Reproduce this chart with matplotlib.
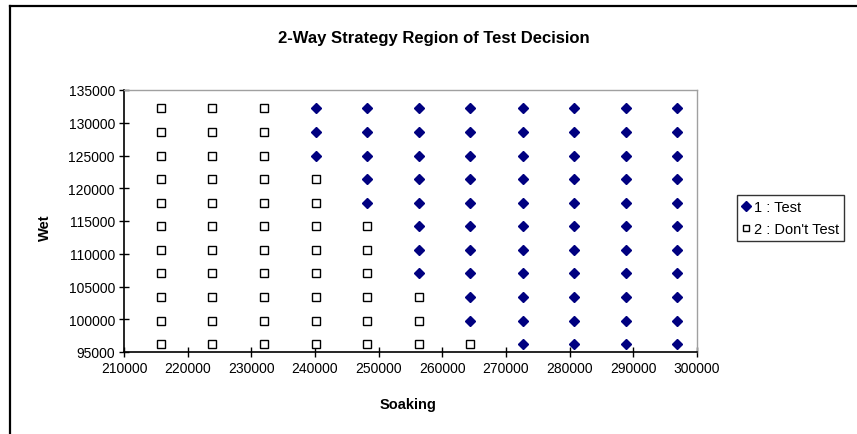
import matplotlib
matplotlib.use("Agg")
import matplotlib.pyplot as plt
from matplotlib.lines import Line2D
import numpy as np

plt.rcParams['font.family'] = ['Liberation Sans', 'DejaVu Sans']

soaking = [215800, 223900, 232000, 240100, 248200, 256300, 264400, 272600, 280700, 288800, 296900]
wet = [96200, 99800, 103400, 107000, 110600, 114200, 117800, 121400, 125000, 128600, 132200]
# lowest wet row index (from bottom) from which decision is "1 : Test" for each soaking column (11 = never)
test_from_row = [11, 11, 11, 8, 6, 3, 1, 0, 0, 0, 0]

x_ticks = [210000, 220000, 230000, 240000, 250000, 260000, 270000, 280000, 290000, 300000]
y_ticks = [95000, 100000, 105000, 110000, 115000, 120000, 125000, 130000, 135000]

test_x, test_y, dont_x, dont_y = [], [], [], []
for i, sx in enumerate(soaking):
    for j, wy in enumerate(wet):
        if j >= test_from_row[i]:
            test_x.append(sx); test_y.append(wy)
        else:
            dont_x.append(sx); dont_y.append(wy)

fig = plt.figure(figsize=(8.57, 4.35), dpi=100)
fig.patch.set_facecolor('white')
ax = fig.add_axes([124/857, 1-353/435, 573/857, 262/435])

ax.plot(test_x, test_y, linestyle='none', marker='D', ms=5.5, color='#000080', mec='#000080')
ax.plot(dont_x, dont_y, linestyle='none', marker='s', ms=5.5, mfc='white', mec='black', mew=1.0)

ax.set_xlim(210000, 300000)
ax.set_ylim(95000, 135000)
ax.set_xticks(x_ticks)
ax.set_yticks(y_ticks)
ax.set_xticklabels([str(v) for v in x_ticks], fontsize=10)
ax.set_yticklabels([str(v) for v in y_ticks], fontsize=10)
ax.tick_params(direction='inout', length=7, width=1, color='black', pad=3)
for s in ['left', 'bottom']:
    ax.spines[s].set_color('black')
    ax.spines[s].set_linewidth(1.2)
for s in ['top', 'right']:
    ax.spines[s].set_color('#a0a0a0')
    ax.spines[s].set_linewidth(1.0)

fig.text(434/857, 1-38/435, '2-Way Strategy Region of Test Decision', ha='center', va='center',
         fontsize=12, fontweight='bold')
fig.text(408/857, 1-405/435, 'Soaking', ha='center', va='center', fontsize=10.5, fontweight='bold')
fig.text(45/857, 1-228/435, 'Wet', ha='center', va='center', fontsize=10.5, fontweight='bold', rotation=90)

handles = [Line2D([], [], linestyle='none', marker='D', ms=5, color='#000080'),
           Line2D([], [], linestyle='none', marker='s', ms=5, mfc='white', mec='black', mew=1.0)]
leg = fig.legend(handles, ['1 : Test', "2 : Don't Test"], loc='center left',
                 bbox_to_anchor=(737/857, 1-219/435), fontsize=10.5, frameon=True, fancybox=False,
                 edgecolor='black', handlelength=0.6, handletextpad=0.2, borderpad=0.35,
                 labelspacing=0.5, borderaxespad=0)
leg.get_frame().set_linewidth(1.0)

# chart area border (left and top visible)
fig.add_artist(Line2D([9.5/857, 9.5/857], [0, 1-7/435], transform=fig.transFigure, color='black', lw=1.6))
fig.add_artist(Line2D([9.5/857, 1], [1-7/435, 1-7/435], transform=fig.transFigure, color='black', lw=1.6))

fig.savefig('out.png', dpi=100)
